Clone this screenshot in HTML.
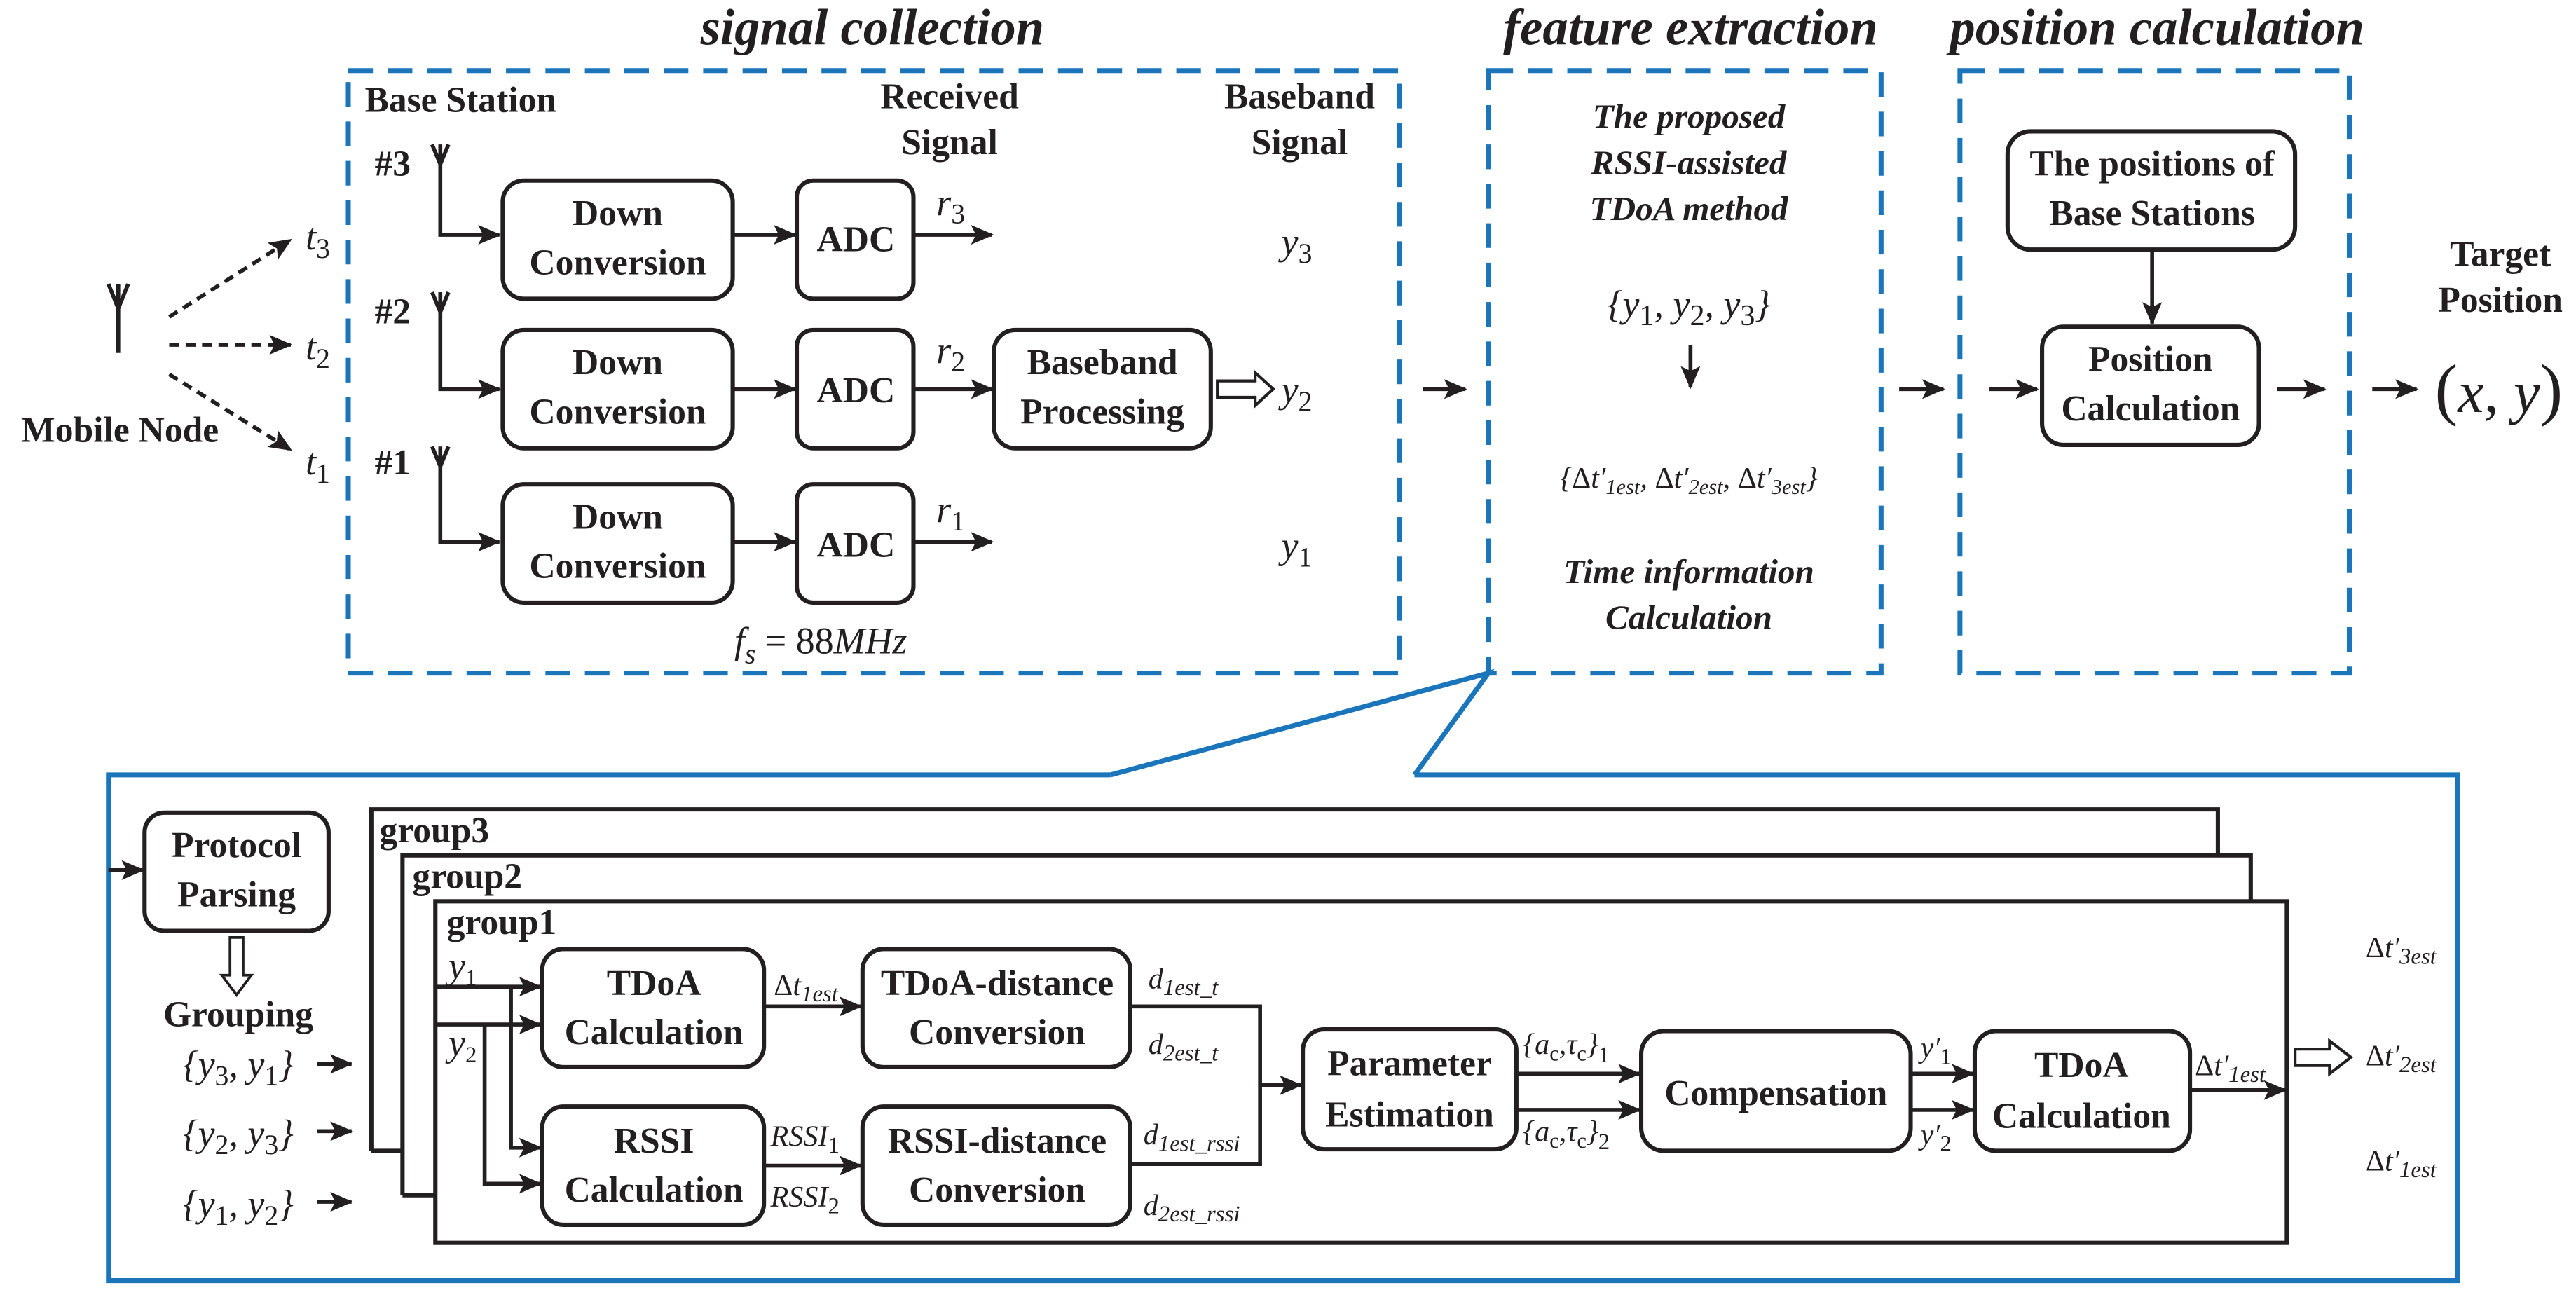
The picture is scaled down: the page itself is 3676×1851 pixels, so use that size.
<!DOCTYPE html>
<html><head><meta charset="utf-8"><style>
html,body{margin:0;padding:0;background:#fff;}
svg{display:block;}
svg text{font-family:"Liberation Serif","DejaVu Serif","Times New Roman",serif;fill:#231f20;}
.b{font-weight:bold;font-size:22px;}
.bi{font-weight:bold;font-style:italic;font-size:21px;}
.t{font-weight:bold;font-style:italic;font-size:31px;}
.m{font-style:italic;font-size:23px;}
.s{font-style:italic;font-size:18px;}
.box{fill:none;stroke:#231f20;stroke-width:2.6;}
.ln{fill:none;stroke:#231f20;stroke-width:2.4;}
.dash{fill:none;stroke:#1a75bb;stroke-width:3;stroke-dasharray:15 9;}
.blue{fill:none;stroke:#1a75bb;stroke-width:3;}
</style></head><body>
<svg width="3676" height="1851" viewBox="0 0 1568 790" preserveAspectRatio="none" xmlns="http://www.w3.org/2000/svg" font-family="Liberation Serif, serif">
<defs>
<marker id="a" markerUnits="userSpaceOnUse" markerWidth="14" markerHeight="12" refX="13" refY="6" orient="auto"><path d="M0,0 L14,6 L0,12 L3,6 Z" fill="#231f20"/></marker>
</defs>

<text class="t" x="531" y="27" text-anchor="middle">signal collection</text>
<text class="t" x="1029" y="27" text-anchor="middle">feature extraction</text>
<text class="t" x="1313" y="27" text-anchor="middle">position calculation</text>

<rect class="dash" x="212" y="43" width="640" height="367"/>
<rect class="dash" x="906" y="43" width="239" height="367"/>
<rect class="dash" x="1193" y="43" width="237" height="367"/>

<!-- mobile node -->
<path class="ln" d="M72,173 L72,215 M66,173 L72,188 L78,173"/>
<text class="b" x="73" y="269" text-anchor="middle">Mobile Node</text>
<path class="ln" d="M103,193 L177,146" stroke-dasharray="6 4" marker-end="url(#a)"/>
<path class="ln" d="M103,210 L177,210" stroke-dasharray="6 4" marker-end="url(#a)"/>
<path class="ln" d="M103,228 L177,274" stroke-dasharray="6 4" marker-end="url(#a)"/>
<text class="m" x="186" y="152" font-size="26">t<tspan font-size="17" dy="5" font-style="normal">3</tspan></text>
<text class="m" x="186" y="219" font-size="26">t<tspan font-size="17" dy="5" font-style="normal">2</tspan></text>
<text class="m" x="186" y="289" font-size="26">t<tspan font-size="17" dy="5" font-style="normal">1</tspan></text>

<text class="b" x="222" y="68">Base Station</text>
<text class="b" x="578" y="66" text-anchor="middle">Received</text>
<text class="b" x="578" y="94" text-anchor="middle">Signal</text>
<text class="b" x="791" y="66" text-anchor="middle">Baseband</text>
<text class="b" x="791" y="94" text-anchor="middle">Signal</text>

<!-- row 3 -->
<text class="b" x="228" y="107" font-size="20">#3</text>
<path class="ln" d="M263,88 L268,100 L273,88"/>
<path class="ln" d="M268,88 L268,143 L304,143" marker-end="url(#a)"/>
<rect class="box" x="306" y="110" width="140" height="72" rx="13"/>
<text class="b" x="376" y="137" text-anchor="middle">Down</text>
<text class="b" x="376" y="167" text-anchor="middle">Conversion</text>
<path class="ln" d="M446,143 L484,143" marker-end="url(#a)"/>
<rect class="box" x="485" y="110" width="71" height="72" rx="10"/>
<text class="b" x="521" y="153" text-anchor="middle">ADC</text>
<path class="ln" d="M556,143 L604,143" marker-end="url(#a)"/>
<text class="m" x="570" y="131" font-size="25">r<tspan font-size="17" dy="5" font-style="normal">3</tspan></text>
<text class="m" x="780" y="155" font-size="26">y<tspan font-size="17" dy="5" font-style="normal">3</tspan></text>

<!-- row 2 -->
<text class="b" x="228" y="197" font-size="20">#2</text>
<path class="ln" d="M263,178 L268,190 L273,178"/>
<path class="ln" d="M268,178 L268,237 L304,237" marker-end="url(#a)"/>
<rect class="box" x="306" y="201" width="140" height="72" rx="13"/>
<text class="b" x="376" y="228" text-anchor="middle">Down</text>
<text class="b" x="376" y="258" text-anchor="middle">Conversion</text>
<path class="ln" d="M446,237 L484,237" marker-end="url(#a)"/>
<rect class="box" x="485" y="201" width="71" height="72" rx="10"/>
<text class="b" x="521" y="245" text-anchor="middle">ADC</text>
<path class="ln" d="M556,237 L604,237" marker-end="url(#a)"/>
<text class="m" x="570" y="221" font-size="25">r<tspan font-size="17" dy="5" font-style="normal">2</tspan></text>
<rect class="box" x="605" y="201" width="132" height="72" rx="13"/>
<text class="b" x="671" y="228" text-anchor="middle">Baseband</text>
<text class="b" x="671" y="258" text-anchor="middle">Processing</text>
<path d="M741,232 L764,232 L764,227 L775,237 L764,247 L764,242 L741,242 Z" fill="#fff" stroke="#231f20" stroke-width="1.8"/>
<text class="m" x="780" y="245" font-size="26">y<tspan font-size="17" dy="5" font-style="normal">2</tspan></text>

<!-- row 1 -->
<text class="b" x="228" y="289" font-size="20">#1</text>
<path class="ln" d="M263,272 L268,284 L273,272"/>
<path class="ln" d="M268,272 L268,330 L304,330" marker-end="url(#a)"/>
<rect class="box" x="306" y="295" width="140" height="72" rx="13"/>
<text class="b" x="376" y="322" text-anchor="middle">Down</text>
<text class="b" x="376" y="352" text-anchor="middle">Conversion</text>
<path class="ln" d="M446,330 L484,330" marker-end="url(#a)"/>
<rect class="box" x="485" y="295" width="71" height="72" rx="10"/>
<text class="b" x="521" y="339" text-anchor="middle">ADC</text>
<path class="ln" d="M556,330 L604,330" marker-end="url(#a)"/>
<text class="m" x="570" y="318" font-size="25">r<tspan font-size="17" dy="5" font-style="normal">1</tspan></text>
<text class="m" x="780" y="340" font-size="26">y<tspan font-size="17" dy="5" font-style="normal">1</tspan></text>
<text class="m" x="447" y="398" font-size="27">f<tspan font-size="17" dy="6">s</tspan><tspan dy="-6" font-style="normal"> = 88</tspan>MHz</text>

<!-- arrows between stages -->
<path class="ln" d="M866,237 L892,237" marker-end="url(#a)"/>
<path class="ln" d="M1156,237 L1183,237" marker-end="url(#a)"/>
<path class="ln" d="M1211,237 L1240,237" marker-end="url(#a)"/>
<path class="ln" d="M1386,237 L1415,237" marker-end="url(#a)"/>
<path class="ln" d="M1444,237 L1471,237" marker-end="url(#a)"/>

<!-- feature extraction -->
<text class="bi" x="1028" y="78" text-anchor="middle">The proposed</text>
<text class="bi" x="1028" y="106" text-anchor="middle">RSSI-assisted</text>
<text class="bi" x="1028" y="134" text-anchor="middle">TDoA method</text>
<text class="m" x="1028" y="193" text-anchor="middle" font-size="27">{y<tspan font-size="18" dy="5" font-style="normal">1</tspan><tspan dy="-5">, y</tspan><tspan font-size="18" dy="5" font-style="normal">2</tspan><tspan dy="-5">, y</tspan><tspan font-size="18" dy="5" font-style="normal">3</tspan><tspan dy="-5">}</tspan></text>
<path class="ln" d="M1029,210 L1029,236" marker-end="url(#a)"/>
<text class="s" x="1028" y="297" text-anchor="middle">{<tspan font-style="normal">Δ</tspan>t′<tspan font-size="13" dy="4">1est</tspan><tspan dy="-4">, </tspan><tspan font-style="normal">Δ</tspan>t′<tspan font-size="13" dy="4">2est</tspan><tspan dy="-4">, </tspan><tspan font-style="normal">Δ</tspan>t′<tspan font-size="13" dy="4">3est</tspan><tspan dy="-4">}</tspan></text>
<text class="bi" x="1028" y="355" text-anchor="middle">Time information</text>
<text class="bi" x="1028" y="383" text-anchor="middle">Calculation</text>

<!-- position calculation -->
<rect class="box" x="1222" y="80" width="175" height="72" rx="14"/>
<text class="b" x="1310" y="107" text-anchor="middle">The positions of</text>
<text class="b" x="1310" y="137" text-anchor="middle">Base Stations</text>
<path class="ln" d="M1310,152 L1310,197" marker-end="url(#a)"/>
<rect class="box" x="1243" y="199" width="132" height="72" rx="13"/>
<text class="b" x="1309" y="226" text-anchor="middle">Position</text>
<text class="b" x="1309" y="256" text-anchor="middle">Calculation</text>
<text class="b" x="1522" y="162" text-anchor="middle">Target</text>
<text class="b" x="1522" y="190" text-anchor="middle">Position</text>
<text x="1521" y="251" text-anchor="middle" font-size="36"><tspan font-size="42">(</tspan><tspan font-style="italic">x</tspan>, <tspan font-style="italic">y</tspan><tspan font-size="42">)</tspan></text>

<!-- callout -->
<path class="blue" d="M676,472 L906,410 L861,472"/>
<path class="blue" d="M676,472 L66,472 L66,780 L1496,780 L1496,472 L861,472"/>

<!-- bottom -->
<path class="ln" d="M66,530 L87,530" marker-end="url(#a)"/>
<rect class="box" x="88" y="495" width="112" height="72" rx="12"/>
<text class="b" x="144" y="522" text-anchor="middle">Protocol</text>
<text class="b" x="144" y="552" text-anchor="middle">Parsing</text>
<path d="M140,571 L148,571 L148,594 L153,594 L144,606 L135,594 L140,594 Z" fill="#fff" stroke="#231f20" stroke-width="1.6"/>
<text class="b" x="145" y="625" text-anchor="middle">Grouping</text>
<text class="m" x="145" y="656" text-anchor="middle" font-size="26">{y<tspan font-size="17" dy="5" font-style="normal">3</tspan><tspan dy="-5">, y</tspan><tspan font-size="17" dy="5" font-style="normal">1</tspan><tspan dy="-5">}</tspan></text>
<text class="m" x="145" y="698" text-anchor="middle" font-size="26">{y<tspan font-size="17" dy="5" font-style="normal">2</tspan><tspan dy="-5">, y</tspan><tspan font-size="17" dy="5" font-style="normal">3</tspan><tspan dy="-5">}</tspan></text>
<text class="m" x="145" y="741" text-anchor="middle" font-size="26">{y<tspan font-size="17" dy="5" font-style="normal">1</tspan><tspan dy="-5">, y</tspan><tspan font-size="17" dy="5" font-style="normal">2</tspan><tspan dy="-5">}</tspan></text>
<path class="ln" d="M193,648 L214,648" marker-end="url(#a)"/>
<path class="ln" d="M193,689 L214,689" marker-end="url(#a)"/>
<path class="ln" d="M193,732 L214,732" marker-end="url(#a)"/>

<path class="box" d="M226,701 L226,493 L1350,493 L1350,521"/>
<path class="box" d="M226,701 L245,701"/>
<path class="box" d="M245,728 L245,521 L1370,521 L1370,549"/>
<path class="box" d="M245,728 L265,728"/>
<rect class="box" x="265" y="549" width="1127" height="208"/>
<text class="b" x="231" y="513" font-size="20">group3</text>
<text class="b" x="251" y="541" font-size="20">group2</text>
<text class="b" x="272" y="569" font-size="20">group1</text>

<text class="m" x="273" y="596" font-size="20">y<tspan font-size="14" dy="4" font-style="normal">1</tspan></text>
<text class="m" x="273" y="643" font-size="20">y<tspan font-size="14" dy="4" font-style="normal">2</tspan></text>
<path class="ln" d="M265,601 L329,601" marker-end="url(#a)"/>
<path class="ln" d="M265,624 L329,624" marker-end="url(#a)"/>
<path class="ln" d="M311,601 L311,699 L329,699" marker-end="url(#a)"/>
<path class="ln" d="M295,624 L295,721 L329,721" marker-end="url(#a)"/>

<rect class="box" x="330" y="578" width="135" height="72" rx="13"/>
<text class="b" x="398" y="606" text-anchor="middle">TDoA</text>
<text class="b" x="398" y="636" text-anchor="middle">Calculation</text>
<rect class="box" x="525" y="578" width="163" height="72" rx="13"/>
<text class="b" x="607" y="606" text-anchor="middle">TDoA-distance</text>
<text class="b" x="607" y="636" text-anchor="middle">Conversion</text>
<path class="ln" d="M465,613 L524,613" marker-end="url(#a)"/>
<text class="s" x="471" y="606" font-size="19"><tspan font-style="normal">Δ</tspan>t<tspan font-size="14" dy="4">1est</tspan></text>

<rect class="box" x="330" y="674" width="135" height="72" rx="13"/>
<text class="b" x="398" y="702" text-anchor="middle">RSSI</text>
<text class="b" x="398" y="732" text-anchor="middle">Calculation</text>
<rect class="box" x="525" y="674" width="163" height="72" rx="13"/>
<text class="b" x="607" y="702" text-anchor="middle">RSSI-distance</text>
<text class="b" x="607" y="732" text-anchor="middle">Conversion</text>
<path class="ln" d="M465,710 L524,710" marker-end="url(#a)"/>
<text class="s" x="469" y="698" font-size="19">RSSI<tspan font-size="14" dy="4" font-style="normal">1</tspan></text>
<text class="s" x="469" y="735" font-size="19">RSSI<tspan font-size="14" dy="4" font-style="normal">2</tspan></text>

<text class="s" x="699" y="602" font-size="19">d<tspan font-size="14" dy="4">1est_t</tspan></text>
<text class="s" x="699" y="642" font-size="19">d<tspan font-size="14" dy="4">2est_t</tspan></text>
<text class="s" x="696" y="697" font-size="19">d<tspan font-size="14" dy="4">1est_rssi</tspan></text>
<text class="s" x="696" y="740" font-size="19">d<tspan font-size="14" dy="4">2est_rssi</tspan></text>
<path class="ln" d="M688,613 L767,613 L767,709 L688,709"/>
<path class="ln" d="M767,661 L792,661" marker-end="url(#a)"/>

<rect class="box" x="793" y="627" width="130" height="73" rx="13"/>
<text class="b" x="858" y="655" text-anchor="middle">Parameter</text>
<text class="b" x="858" y="686" text-anchor="middle">Estimation</text>
<path class="ln" d="M923,654 L998,654" marker-end="url(#a)"/>
<path class="ln" d="M923,676 L998,676" marker-end="url(#a)"/>
<text class="s" x="927" y="642" font-size="19">{a<tspan font-size="13" dy="4" font-style="normal">c</tspan><tspan dy="-4">,τ</tspan><tspan font-size="13" dy="4" font-style="normal">c</tspan><tspan dy="-4">}</tspan><tspan font-size="14" dy="5" font-style="normal">1</tspan></text>
<text class="s" x="927" y="695" font-size="19">{a<tspan font-size="13" dy="4" font-style="normal">c</tspan><tspan dy="-4">,τ</tspan><tspan font-size="13" dy="4" font-style="normal">c</tspan><tspan dy="-4">}</tspan><tspan font-size="14" dy="5" font-style="normal">2</tspan></text>

<rect class="box" x="999" y="628" width="164" height="73" rx="14"/>
<text class="b" x="1081" y="673" text-anchor="middle">Compensation</text>
<path class="ln" d="M1163,654 L1201,654" marker-end="url(#a)"/>
<path class="ln" d="M1163,676 L1201,676" marker-end="url(#a)"/>
<text class="s" x="1169" y="644" font-size="20">y′<tspan font-size="14" dy="4" font-style="normal">1</tspan></text>
<text class="s" x="1169" y="697" font-size="20">y′<tspan font-size="14" dy="4" font-style="normal">2</tspan></text>

<rect class="box" x="1202" y="628" width="131" height="73" rx="13"/>
<text class="b" x="1267" y="656" text-anchor="middle">TDoA</text>
<text class="b" x="1267" y="687" text-anchor="middle">Calculation</text>
<text class="s" x="1336" y="655" font-size="19"><tspan font-style="normal">Δ</tspan>t′<tspan font-size="14" dy="4">1est</tspan></text>
<path class="ln" d="M1333,664 L1391,664" marker-end="url(#a)"/>

<path d="M1397,639 L1418,639 L1418,634 L1431,644 L1418,654 L1418,649 L1397,649 Z" fill="#fff" stroke="#231f20" stroke-width="1.8"/>
<text class="s" x="1440" y="583" font-size="19"><tspan font-style="normal">Δ</tspan>t′<tspan font-size="14" dy="4">3est</tspan></text>
<text class="s" x="1440" y="649" font-size="19"><tspan font-style="normal">Δ</tspan>t′<tspan font-size="14" dy="4">2est</tspan></text>
<text class="s" x="1440" y="713" font-size="19"><tspan font-style="normal">Δ</tspan>t′<tspan font-size="14" dy="4">1est</tspan></text>
</svg>
</body></html>
